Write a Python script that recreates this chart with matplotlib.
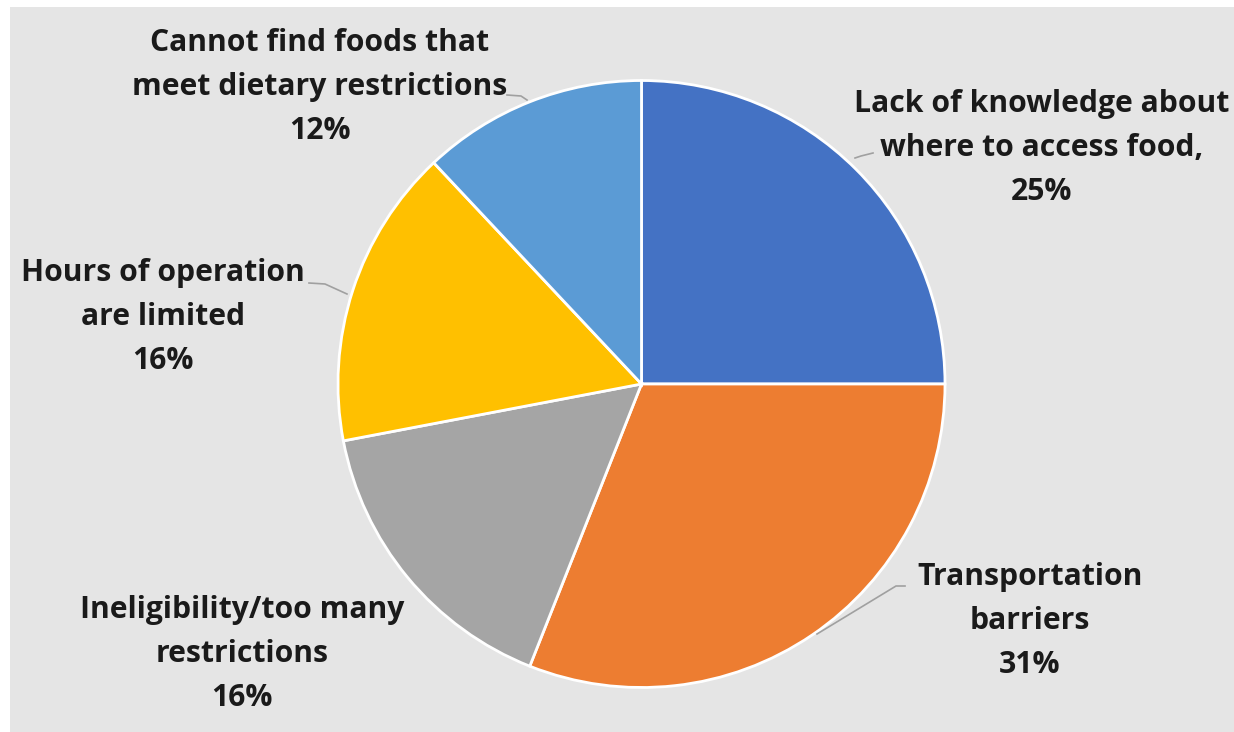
import matplotlib
matplotlib.use("Agg")
import matplotlib.pyplot as plt
from matplotlib.patches import Rectangle

categories = ["Lack of knowledge about\nwhere to access food,",
              "Transportation\nbarriers",
              "Ineligibility/too many\nrestrictions",
              "Hours of operation\nare limited",
              "Cannot find foods that\nmeet dietary restrictions"]
values = [25, 31, 16, 16, 12]
colors = ["#4472C4", "#ED7D31", "#A5A5A5", "#FFC000", "#5B9BD5"]

W, H = 1234, 732
fig = plt.figure(figsize=(W / 100, H / 100), dpi=100, facecolor="white")
ax = fig.add_axes([0, 0, 1, 1])

ax.add_patch(Rectangle((10, 0), W - 10, H - 7, facecolor="#E5E5E5", edgecolor="none", zorder=0))

cx, cy, r = 641.5, H - 384, 303.5
ax.pie(values, colors=colors, startangle=90, counterclock=False,
       center=(cx, cy), radius=r, frame=True,
       wedgeprops=dict(edgecolor="white", linewidth=2))
ax.set_xlim(0, W)
ax.set_ylim(0, H)
ax.set_aspect("equal")
ax.axis("off")

font = dict(family=["Open Sans", "DejaVu Sans"], fontweight="bold", fontsize=21.7,
            color="#1a1a1a", ha="center", va="center", linespacing=1.62)

labels = [f"{categories[i]}\n{values[i]}%" for i in range(len(values))]
pos = [(1042, H - 148), (1030, H - 621), (242, H - 654), (163, H - 317), (320, H - 87)]
for lab, (x, y) in zip(labels, pos):
    ax.text(x, y, lab, **font)

lc = dict(color="#A0A0A0", linewidth=1.2, zorder=3)
ax.plot([507, 521, 527], [H - 95, H - 96, H - 100], **lc)
ax.plot([309, 325, 347], [H - 283, H - 284, H - 294], **lc)
ax.plot([905, 896, 817], [H - 586, H - 586, H - 634], **lc)
ax.plot([855, 861, 873], [H - 158, H - 156, H - 153], **lc)

fig.savefig("out.png", dpi=100, facecolor="white")
